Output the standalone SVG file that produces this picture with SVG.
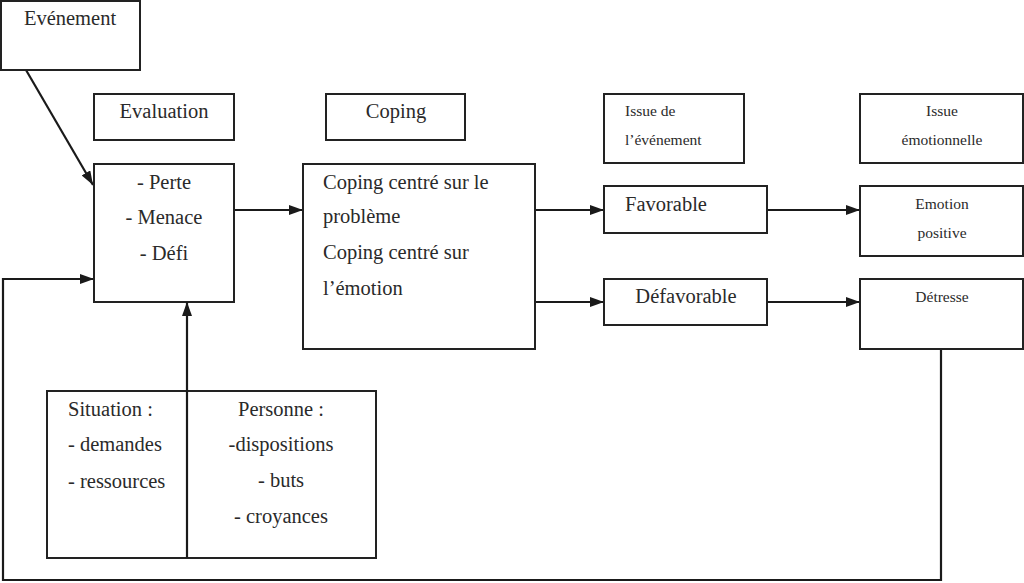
<svg xmlns="http://www.w3.org/2000/svg" width="1024" height="583" viewBox="0 0 1024 583" font-family="Liberation Serif, Tinos, DejaVu Serif, serif">
<style>
.box{fill:#fff;stroke:#222;stroke-width:2}
text{font-family:'Liberation Serif',Tinos,'Times New Roman','DejaVu Serif',serif;font-size:20.5px;fill:#2a2a2a}
.s{font-size:15.5px}
.c{text-anchor:middle}
.ln{fill:none;stroke:#1a1a1a;stroke-width:2.2}
</style>
<defs>
<marker id="ah" viewBox="0 0 14 10" refX="14" refY="5" markerWidth="14" markerHeight="10" markerUnits="userSpaceOnUse" orient="auto">
<path d="M0,0 L14,5 L0,10 z" fill="#1a1a1a"/>
</marker>
</defs>
<rect width="1024" height="583" fill="#fff"/>
<g id="connectors">
<line class="ln" x1="26" y1="70" x2="93" y2="185" marker-end="url(#ah)"/>
<line class="ln" x1="234" y1="210" x2="303" y2="210" marker-end="url(#ah)"/>
<line class="ln" x1="535" y1="210" x2="604" y2="210" marker-end="url(#ah)"/>
<line class="ln" x1="535" y1="302" x2="604" y2="302" marker-end="url(#ah)"/>
<line class="ln" x1="767" y1="210" x2="860" y2="210" marker-end="url(#ah)"/>
<line class="ln" x1="767" y1="302" x2="860" y2="302" marker-end="url(#ah)"/>
<polyline class="ln" points="941,349 941,580 3,580 3,279 94,279" marker-end="url(#ah)"/>
</g>
<g id="evenement"><rect class="box" x="1" y="1" width="139" height="69"/><text x="70" y="25" class="c">Evénement</text></g>
<g id="evaluation-header"><rect class="box" x="94" y="94" width="140" height="46"/><text x="164" y="118" class="c">Evaluation</text></g>
<g id="evaluation"><rect class="box" x="94" y="164" width="140" height="138"/>
<text x="164" y="189" class="c">- Perte</text><text x="164" y="224" class="c">- Menace</text><text x="164" y="260" class="c">- Défi</text></g>
<g id="coping-header"><rect class="box" x="326" y="94" width="139" height="46"/><text x="396" y="118" class="c">Coping</text></g>
<g id="coping"><rect class="box" x="303" y="164" width="232" height="185"/>
<text x="323" y="189">Coping centré sur le</text><text x="323" y="223">problème</text><text x="323" y="259">Coping centré sur</text><text x="323" y="295">l’émotion</text></g>
<g id="issue-evenement"><rect class="box" x="604" y="94" width="140" height="69"/>
<text x="625" y="116" class="s">Issue de</text><text x="625" y="145" class="s">l’événement</text></g>
<g id="favorable"><rect class="box" x="604" y="186" width="163" height="47"/><text x="625" y="211">Favorable</text></g>
<g id="defavorable"><rect class="box" x="604" y="279" width="163" height="46"/><text x="686" y="303" class="c">Défavorable</text></g>
<g id="issue-emotionnelle"><rect class="box" x="860" y="94" width="163" height="69"/>
<text x="942" y="116" class="s c">Issue</text><text x="942" y="145" class="s c">émotionnelle</text></g>
<g id="emotion-positive"><rect class="box" x="860" y="186" width="163" height="70"/>
<text x="942" y="209" class="s c">Emotion</text><text x="942" y="238" class="s c">positive</text></g>
<g id="detresse"><rect class="box" x="860" y="279" width="163" height="70"/><text x="942" y="302" class="s c">Détresse</text></g>
<g id="situation-personne"><rect class="box" x="47" y="391" width="329" height="167"/>
<text x="68" y="416">Situation :</text><text x="68" y="451">- demandes</text><text x="68" y="488">- ressources</text>
<text x="281" y="416" class="c">Personne :</text><text x="281" y="451" class="c">-dispositions</text><text x="281" y="487" class="c">- buts</text><text x="281" y="523" class="c">- croyances</text></g>
<g id="connector-up"><line class="ln" x1="187" y1="558" x2="187" y2="302" marker-end="url(#ah)"/></g>
</svg>
